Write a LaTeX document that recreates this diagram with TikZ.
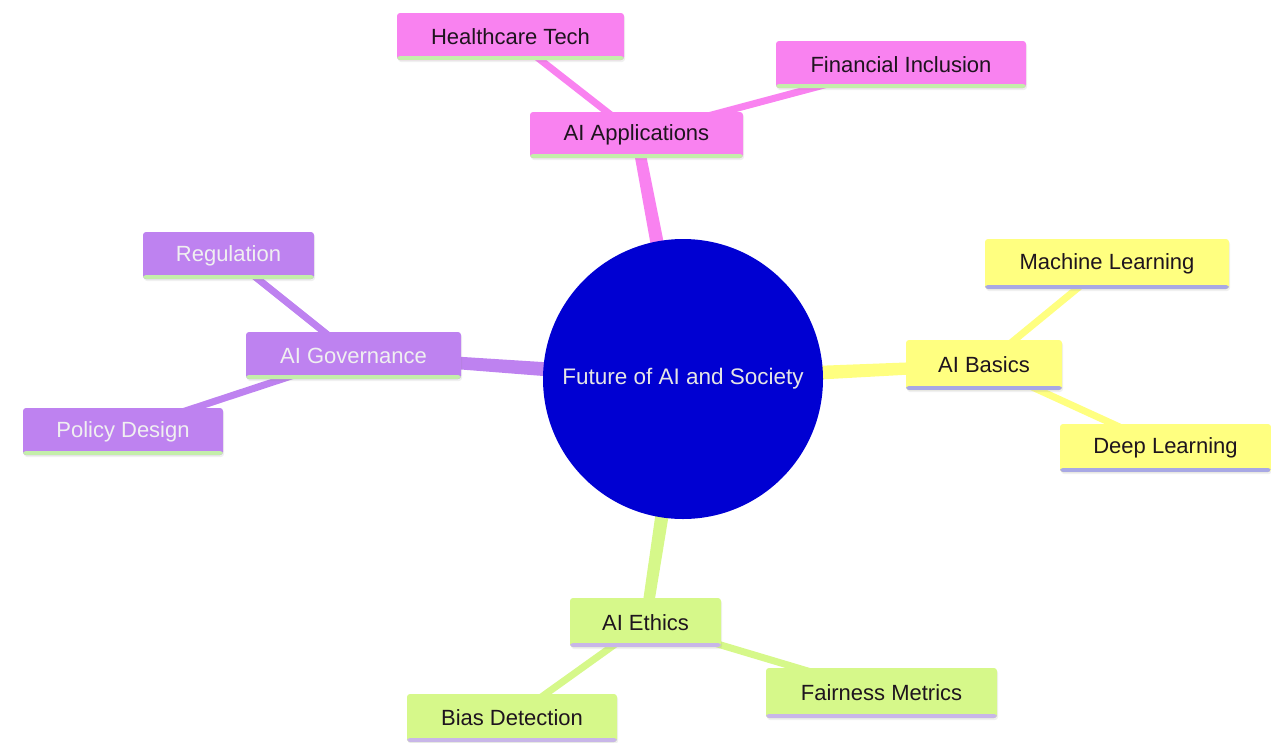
\documentclass[tikz,border=0pt]{standalone}
\usepackage{fontspec}
\setmainfont{Liberation Sans}
\usetikzlibrary{backgrounds,shadows,calc}
\definecolor{pk}{RGB}{249,130,240}
\definecolor{yl}{RGB}{255,255,128}
\definecolor{pu}{RGB}{190,130,240}
\definecolor{gr}{RGB}{214,248,138}
\definecolor{cb}{RGB}{0,0,210}
\definecolor{bgreen}{RGB}{196,238,170}
\definecolor{bblue}{RGB}{168,168,228}
\definecolor{blav}{RGB}{200,182,232}
\definecolor{dk}{RGB}{30,20,30}
\tikzset{
  box/.style={rectangle, rounded corners=3pt, inner sep=0pt, font=\fontsize{22}{26}\selectfont,
     drop shadow={opacity=0.12, shadow xshift=1pt, shadow yshift=-2pt}},
  bb/.style={path picture={\fill[#1] ([yshift=4pt]path picture bounding box.south west) rectangle (path picture bounding box.south east);}},
  pkbox/.style={box, fill=pk, text=dk, bb=bgreen},
  ylbox/.style={box, fill=yl, text=dk, bb=bblue},
  pubox/.style={box, fill=pu, text=white!94!black, bb=bgreen},
  grbox/.style={box, fill=gr, text=dk, bb=blav},
  subedge/.style={line width=7pt},
}
\newcommand{\taper}[3]{%
  \fill[#1] ($(#2)!8pt!90:(#3)$) -- ($(#3)!5.5pt!-90:(#2)$) -- ($(#3)!5.5pt!90:(#2)$) -- ($(#2)!8pt!-90:(#3)$) -- cycle;}
\begin{document}
\begin{tikzpicture}[x=1pt,y=-1pt]
\useasboundingbox (0,0) rectangle (1271,742);
\node[circle, fill=cb, minimum size=280pt, inner sep=0pt, text=white!90!black, font=\fontsize{22.5}{26}\selectfont] (c) at (683,379) {Future of AI and Society};
% pink
\node[pkbox, minimum width=213pt, minimum height=46pt] (aa) at (636.5,135) {AI Applications};
\node[pkbox, minimum width=227pt, minimum height=47pt] (ht) at (510.5,36.5) {Healthcare Tech};
\node[pkbox, minimum width=250pt, minimum height=47pt] (fi) at (901,64.5) {Financial Inclusion};
% yellow
\node[ylbox, minimum width=156pt, minimum height=50pt] (ab) at (984,365) {AI Basics};
\node[ylbox, minimum width=244pt, minimum height=50pt] (ml) at (1107,264) {Machine Learning};
\node[ylbox, minimum width=211pt, minimum height=48pt] (dl) at (1165.5,448) {Deep Learning};
% purple
\node[pubox, minimum width=215pt, minimum height=47pt] (ag) at (353.5,355.5) {AI Governance};
\node[pubox, minimum width=171pt, minimum height=47pt] (rg) at (228.5,255.5) {Regulation};
\node[pubox, minimum width=200pt, minimum height=47pt] (pd) at (123,431.5) {Policy Design};
% green
\node[grbox, minimum width=151pt, minimum height=49pt] (ae) at (645.5,622.5) {AI Ethics};
\node[grbox, minimum width=210pt, minimum height=48pt] (bd) at (512,718) {Bias Detection};
\node[grbox, minimum width=231pt, minimum height=50pt] (fm) at (881.5,693) {Fairness Metrics};
\begin{scope}[on background layer]
  \taper{pk}{c}{aa}
  \taper{yl}{c}{ab}
  \taper{pu}{c}{ag}
  \taper{gr}{c}{ae}
  \draw[subedge, pk] (aa.center) -- (ht.center);
  \draw[subedge, pk] (aa.center) -- (fi.center);
  \draw[subedge, yl] (ab.center) -- (ml.center);
  \draw[subedge, yl] (ab.center) -- (dl.center);
  \draw[subedge, pu] (ag.center) -- (rg.center);
  \draw[subedge, pu] (ag.center) -- (pd.center);
  \draw[subedge, gr] (ae.center) -- (bd.center);
  \draw[subedge, gr] (ae.center) -- (fm.center);
\end{scope}
\end{tikzpicture}
\end{document}
